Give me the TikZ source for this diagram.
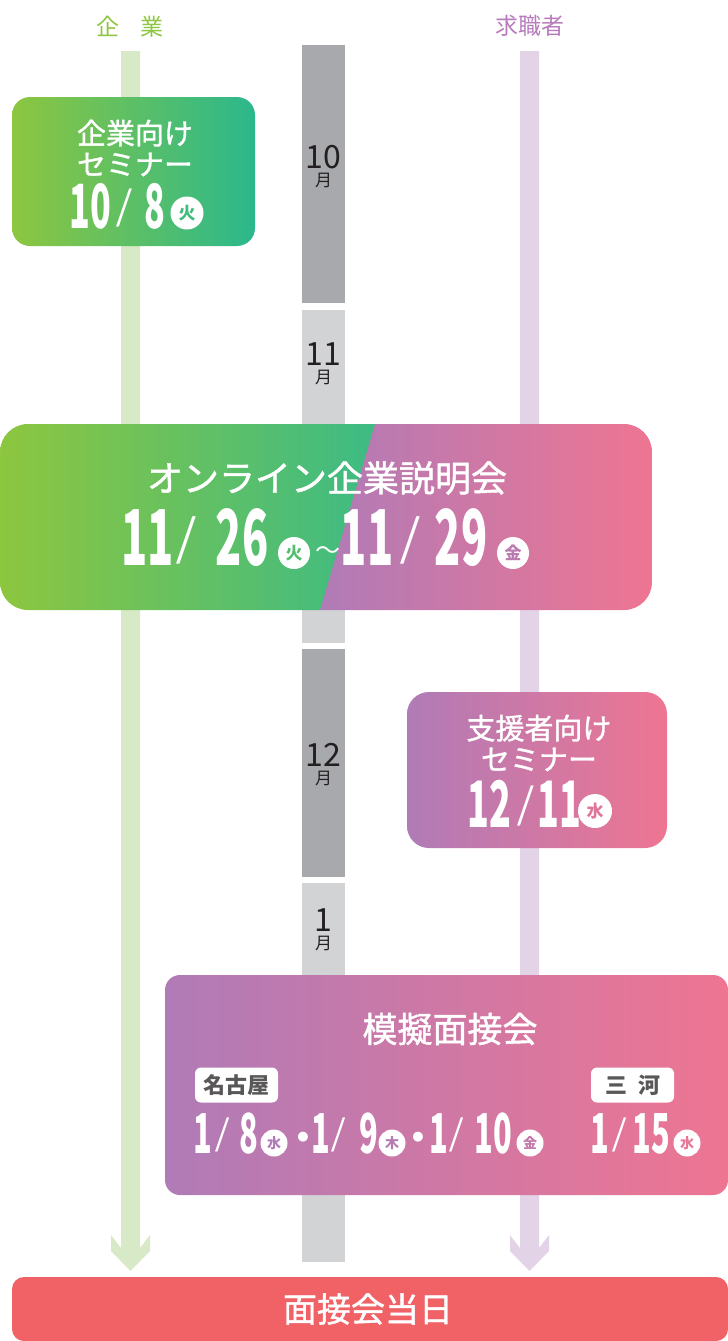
\documentclass[tikz,border=0pt]{standalone}
\usepackage{fontspec}
\usepackage{xcolor}
\setmainfont{Noto Sans CJK JP}
\newfontfamily\datefont[FakeStretch=0.56]{Noto Sans CJK JP}
\newfontfamily\titlefont[FakeBold=1.2]{Noto Sans CJK JP}
\newfontfamily\slashfont{Liberation Serif}
\newfontfamily\symfont{DejaVu Sans}
\usetikzlibrary{positioning}

\definecolor{kigyo}{HTML}{8DC63F}
\definecolor{teal}{HTML}{2BB88D}
\definecolor{greenmid}{HTML}{3DBB84}
\definecolor{shokusha}{HTML}{B07BB7}
\definecolor{pink}{HTML}{EE7592}
\definecolor{lanegreen}{HTML}{D7E9C7}
\definecolor{lanepurple}{HTML}{E3D3E7}
\definecolor{monthdark}{HTML}{A7A9AC}
\definecolor{monthlight}{HTML}{D1D3D5}
\definecolor{barred}{HTML}{F06266}
\definecolor{headpurple}{HTML}{B77BBC}
\definecolor{tagtext}{HTML}{595757}
\definecolor{monthtext}{HTML}{231F20}

\begin{document}
\begin{tikzpicture}[x=1pt, y=-1pt,
			head/.style={inner sep=0pt, font=\fontsize{23}{23}\selectfont},
			monthnum/.style={inner sep=0pt, text=monthtext, font=\fontsize{32}{32}\selectfont},
			monthkanji/.style={inner sep=0pt, text=monthtext, font=\fontsize{17}{17}\selectfont},
			title/.style={inner sep=0pt, text=white, align=center},
			digits/.style={inner sep=0pt, text=white, anchor=base},
			sla/.style={inner sep=0pt, text=white},
			dot/.style={inner sep=0pt, text=white, font=\symfont\fontsize{13}{13}\selectfont},
			wday/.style={circle, fill=white, inner sep=0pt, font=\bfseries\fontsize{17}{17}\selectfont},
			tag/.style={fill=white, rounded corners=6pt, minimum width=83pt, minimum height=35pt,
				inner sep=0pt, text=tagtext, font=\bfseries\fontsize{22}{22}\selectfont}]
			
			\useasboundingbox (0,0) rectangle (728,1341);
			
			% headers
			\node[head, text=kigyo] (kigyo) at (130,27) {企\hspace{0.9em}業};
			\node[head, text=headpurple] (kyushoku) at (530,26) {求職者};
			
			% lanes with arrow heads
			\foreach \cx/\col in {130.5/lanegreen, 529.5/lanepurple}
			\fill[\col] (\cx-9.5,51) -- (\cx-9.5,1248) -- (\cx-19.5,1235) -- (\cx-19.5,1251)
				-- (\cx,1271) -- (\cx+19.5,1251) -- (\cx+19.5,1235) -- (\cx+9.5,1248)
				-- (\cx+9.5,51) -- cycle;
			
			% month bar
			\fill[monthdark] (302,45) rectangle (345,303);
			\fill[monthlight] (302,310) rectangle (345,643);
			\fill[monthdark] (302,649) rectangle (345,877);
			\fill[monthlight] (302,883) rectangle (345,1262);
			\node[monthnum] (m10) at (323.5,157) {10};
			\node[monthkanji, below=4pt of m10] (m10k) {月};
			\node[monthnum] (m11) at (323.5,354) {11};
			\node[monthkanji, below=4pt of m11] (m11k) {月};
			\node[monthnum] (m12) at (323.5,755) {12};
			\node[monthkanji, below=4pt of m12] (m12k) {月};
			\node[monthnum] (m1) at (323.5,920) {1};
			\node[monthkanji, below=4pt of m1] (m1k) {月};
			
			% seminar for companies
			\shade[left color=kigyo, right color=teal, rounded corners=18pt] (12,97) rectangle (255,246);
			\node[title, font=\titlefont\fontsize{29}{31}\selectfont] (ksem) at (135,148) {企業向け\\セミナー};
			\begin{scope}[every node/.append style={font=\datefont\bfseries\fontsize{61}{61}\selectfont}]
				\node[digits] (kmon) at (90,228) {10};
				\node[sla, font=\slashfont\fontsize{57}{57}\selectfont] (ksla) at (124,208) {/};
				\node[digits] (kdd) at (155,228) {8};
			\end{scope}
			\node[wday, minimum size=33pt, text=teal!80!kigyo] (kday) at (187,213) {火};
			
			% online fair
			\begin{scope}
				\clip[rounded corners=28pt] (0,424) rectangle (652,610);
				\shade[left color=shokusha, right color=pink] (320,424) rectangle (652,610);
				\shade[left color=kigyo, right color=greenmid] (0,424) -- (375,424) -- (320,610) -- (0,610) -- cycle;
			\end{scope}
			\node[title, font=\titlefont\fontsize{36}{36}\selectfont] (online) at (327,478) {オンライン企業説明会};
			\begin{scope}[every node/.append style={font=\datefont\bfseries\fontsize{77}{77}\selectfont}]
				\node[digits] (omon1) at (147.5,565) {11};
				\node[sla, font=\slashfont\fontsize{71}{71}\selectfont] (osla1) at (186,540) {/};
				\node[digits] (odd1) at (242,565) {26};
				\node[digits] (omon2) at (367,565) {11};
				\node[sla, font=\slashfont\fontsize{71}{71}\selectfont] (osla2) at (410,540) {/};
				\node[digits] (odd2) at (461,565) {29};
			\end{scope}
			\node[wday, minimum size=32pt, text=greenmid!70!kigyo] (oday1) at (294,553) {火};
			\node[inner sep=0pt, text=white, font=\fontsize{25}{25}\selectfont] (tilde) at (328,553) {〜};
			\node[wday, minimum size=32pt, text=shokusha!80!pink] (oday2) at (513,553) {金};
			
			% seminar for supporters
			\shade[left color=shokusha, right color=pink, rounded corners=22pt] (407,692) rectangle (667,848);
			\node[title, font=\titlefont\fontsize{29}{31}\selectfont] (ssem) at (539,743) {支援者向け\\セミナー};
			\begin{scope}[every node/.append style={font=\datefont\bfseries\fontsize{64}{64}\selectfont}]
				\node[digits] (smon) at (489,827) {12};
				\node[sla, font=\slashfont\fontsize{60}{60}\selectfont] (ssla) at (526,806) {/};
				\node[digits] (sdd) at (559,827) {11};
			\end{scope}
			\node[wday, minimum size=34pt, text=pink!75!shokusha] (sday) at (595,811) {水};
			
			% mock interviews
			\shade[left color=shokusha, right color=pink, rounded corners=15pt] (165,975) rectangle (728,1195);
			\node[title, font=\titlefont\fontsize{35}{35}\selectfont] (mock) at (450,1029) {模擬面接会};
			\node[tag] (nagoya) at (236.5,1085) {名古屋};
			\node[tag] (mikawa) at (632.5,1085) {三\hspace{0.5em}河};
			\begin{scope}[every node/.append style={font=\datefont\bfseries\fontsize{55}{55}\selectfont}]
				\node[digits] (mmon1) at (202.5,1153) {1};
				\node[sla, font=\slashfont\fontsize{51}{51}\selectfont] (msla1) at (223,1135) {/};
				\node[digits] (mdd1) at (249,1153) {8};
				\node[digits] (mmon2) at (321,1153) {1};
				\node[sla, font=\slashfont\fontsize{51}{51}\selectfont] (msla2) at (339,1135) {/};
				\node[digits] (mdd2) at (369,1153) {9};
				\node[digits] (mmon3) at (439,1153) {1};
				\node[sla, font=\slashfont\fontsize{51}{51}\selectfont] (msla3) at (456.5,1135) {/};
				\node[digits] (mdd3) at (493,1153) {10};
				\node[digits] (mmon4) at (600,1153) {1};
				\node[sla, font=\slashfont\fontsize{51}{51}\selectfont] (msla4) at (619.5,1135) {/};
				\node[digits] (mdd4) at (651,1153) {15};
			\end{scope}
			\node[wday, minimum size=27pt, font=\bfseries\fontsize{14}{14}\selectfont, text=shokusha] (mday1) at (274,1143) {水};
			\node[dot] (dot1) at (303,1137) {●};
			\node[wday, minimum size=27pt, font=\bfseries\fontsize{14}{14}\selectfont, text=shokusha!90!pink] (mday2) at (392,1143) {木};
			\node[dot] (dot2) at (418,1137) {●};
			\node[wday, minimum size=27pt, font=\bfseries\fontsize{14}{14}\selectfont, text=shokusha!70!pink] (mday3) at (530,1143) {金};
			\node[wday, minimum size=27pt, font=\bfseries\fontsize{14}{14}\selectfont, text=pink!90!shokusha] (mday4) at (687,1143) {水};
			
			% interview day
			\fill[barred, rounded corners=12pt] (12,1277) rectangle (728,1341);
			\node[title, font=\titlefont\fontsize{34}{34}\selectfont] (iday) at (368,1309) {面接会当日};
		\end{tikzpicture}
\end{document}
